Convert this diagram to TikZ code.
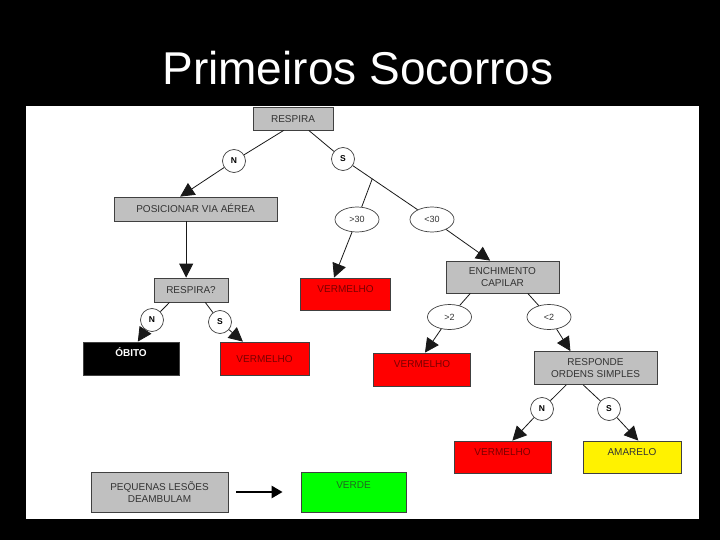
\documentclass[tikz,border=0pt]{standalone}
\usepackage{fontspec}
\setmainfont{Liberation Sans}
\usepackage{tikz}
\usetikzlibrary{arrows.meta,shapes.geometric}
\definecolor{boxgray}{HTML}{C0C0C0}
\definecolor{rimgray}{HTML}{404040}
\definecolor{txtgray}{HTML}{333333}
\definecolor{txtred}{HTML}{7A0000}
\definecolor{txtgreen}{HTML}{1E6B1E}

\begin{document}
\begin{tikzpicture}[x=1pt,y=-1pt,
  box/.style n args={3}{draw=rimgray,line width=0.8pt,fill=#1,minimum width=#2,minimum height=#3,inner sep=0pt,align=center,font=\fontsize{10}{11.5}\selectfont,text=txtgray},
  txtup/.style={text height=7.2pt,text depth=#1},
  cbox/.style={circle,draw=rimgray,fill=white,line width=0.7pt,minimum size=23pt,inner sep=0pt,font=\fontsize{8.5}{9}\bfseries\selectfont},
  ebox/.style={ellipse,draw=rimgray,fill=white,line width=0.7pt,minimum width=44pt,minimum height=25pt,inner sep=0pt,font=\fontsize{9}{10}\selectfont,text=txtgray},
  con/.style={draw=black!90,line width=0.8pt},
  arr/.style={-{Triangle[length=14pt,width=14pt]}}]
\fill[black] (0,0) rectangle (720,540);
\fill[white] (26,106) rectangle (699,519);
\node[text=white,font=\fontsize{46}{50}\selectfont] (title) at (358,68) {Primeiros Socorros};

\node[box={boxgray}{80pt}{23pt},txtup=0pt] (respira) at (293,118.5) {RESPIRA};
\node[box={boxgray}{163pt}{24pt},txtup=0pt] (posic) at (195.5,209) {POSICIONAR VIA AÉREA};
\node[box={boxgray}{74pt}{24pt},txtup=0pt] (resp2) at (191,290) {RESPIRA?};
\node[box={red}{90pt}{32pt},text=txtred,txtup=10pt] (verm1) at (345.5,294) {VERMELHO};
\node[box={boxgray}{113pt}{32pt}] (ench) at (502.5,277) {ENCHIMENTO\\CAPILAR};
\node[box={black}{96pt}{33pt},text=white,font=\fontsize{10}{11.5}\bfseries\selectfont,txtup=11pt] (obito) at (131,358.5) {ÓBITO};
\node[box={red}{89pt}{33pt},text=txtred,txtup=0pt] (verm2) at (264.5,358.5) {VERMELHO};
\node[box={red}{97pt}{33pt},text=txtred,txtup=11pt] (verm3) at (422,369.5) {VERMELHO};
\node[box={boxgray}{123pt}{33pt}] (resp3) at (595.5,368) {RESPONDE\\ORDENS SIMPLES};
\node[box={red}{97pt}{32pt},text=txtred,txtup=10pt] (verm4) at (502.5,457) {VERMELHO};
\node[box={yellow}{98pt}{32pt},txtup=10pt] (amar) at (632,457) {AMARELO};
\node[box={boxgray}{137pt}{40pt}] (pequenas) at (159.5,492) {PEQUENAS LESÕES\\DEAMBULAM};
\node[box={green}{105pt}{40pt},text=txtgreen,txtup=14pt] (verde) at (353.5,492) {VERDE};

\foreach \nm/\tx/\x/\y in {n1/N/234/161,s1/S/343/159,n2/N/152/320,s2/S/220/322,n3/N/542/409,s3/S/609/409}
  \node[cbox] (\nm) at (\x,\y) {\tx};
\foreach \nm/\tx/\x/\y in {gt30/>30/357/219.5,lt30/<30/432/219.5,gt2/>2/449.5/317,lt2/<2/549/317}
  \node[ebox] (\nm) at (\x,\y) {\tx};

\draw[con] (respira.232) -- (n1);
\draw[con,arr] (n1) -- (posic.141);
\draw[con] (respira.-37) -- (s1);
\draw[con] (s1) -- coordinate[pos=.3] (fork) (lt30);
\draw[con] (fork) -- (gt30);
\draw[con,arr] (gt30) -- (verm1.125);
\draw[con,arr] (lt30) -- (ench.127);
\draw[con,arr] (posic.233) -- (posic.233 |- resp2.north);
\draw[con] (resp2.210) -- (n2);
\draw[con,arr] (n2) -- (obito.68);
\draw[con] (resp2.-41) -- (s2);
\draw[con,arr] (s2) -- (verm2.142);
\draw[con] (ench.207) -- (gt2);
\draw[con,arr] (gt2) -- (verm3.80);
\draw[con] (ench.-33) -- (lt2);
\draw[con,arr] (lt2) -- (resp3.146);
\draw[con] (resp3.210) -- (n3);
\draw[con,arr] (n3) -- (verm4.59);
\draw[con] (resp3.234) -- (s3);
\draw[con,arr] (s3) -- (amar.69);
\draw[line width=2.5pt,-{Triangle[length=11pt,width=12pt]},shorten <=8pt,shorten >=18pt] (pequenas) -- (verde);
\end{tikzpicture}
\end{document}
